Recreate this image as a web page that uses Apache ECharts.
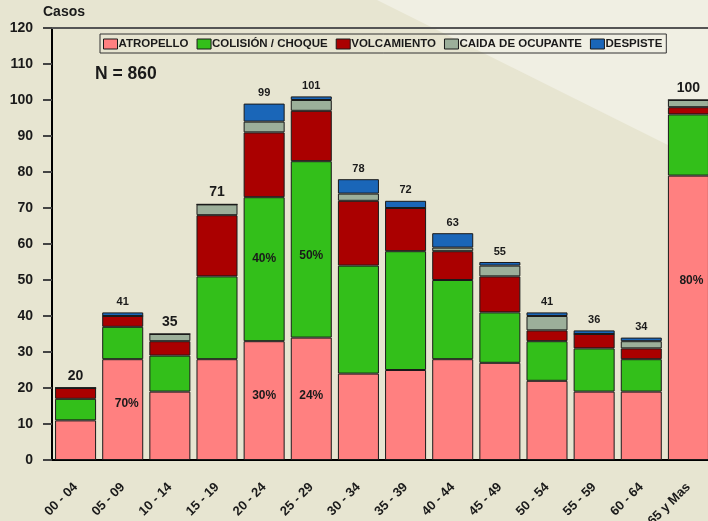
<!DOCTYPE html>
<html>
<head>
<meta charset="utf-8">
<script src="https://cdn.jsdelivr.net/npm/echarts@6/dist/echarts.min.js"></script>
<style>
html, body { margin: 0; padding: 0; background: #e7e5d1; overflow: hidden; }
#chart { width: 712px; height: 521px; }
</style>
</head>
<body>
<div id="chart"></div>
<script>
var categorias = ['00 - 04', '05 - 09', '10 - 14', '15 - 19', '20 - 24', '25 - 29', '30 - 34',
    '35 - 39', '40 - 44', '45 - 49', '50 - 54', '55 - 59', '60 - 64', '65 y Mas'];

var atropello   = [11, 28, 19, 28, 33, 34, 24, 25, 28, 27, 22, 19, 19, 79];
var colision    = [6, 9, 10, 23, 40, 49, 30, 33, 22, 14, 11, 12, 9, 17];
var volcamiento = [3, 3, 4, 17, 18, 14, 18, 12, 8, 10, 3, 4, 3, 2];
var caida       = [0, 0, 2, 3, 3, 3, 2, 0, 1, 3, 4, 0, 2, 2];
var despiste    = [0, 1, 0, 0, 5, 1, 4, 2, 4, 1, 1, 1, 1, 0];
var totales     = [20, 41, 35, 71, 99, 101, 78, 72, 63, 55, 41, 36, 34, 100];

var pctAtropello = ['', '70%', '', '', '30%', '24%', '', '', '', '', '', '', '', '80%'];
var pctColision  = ['', '', '', '', '40%', '50%', '', '', '', '', '', '', '', ''];

var yMin = 0, yMax = 120, yStep = 10;

// etiquetas de total en letra grande
var totalGrande = [0, 2, 3, 13];
// desplazamiento de las etiquetas de porcentaje
var pctOffset = { 1: [4, -6], 4: [0, -5], 5: [0, -3], 13: [3, -37] };
var pctOffset2 = { 4: [0, -11], 5: [0, 6] };

var txt = '#1a1a1a';
var fuente = '"Liberation Sans", Arial, sans-serif';

function conPct(valores, pcts, offs) {
    return valores.map(function (v, i) {
        if (!pcts[i]) return v;
        return {
            value: v,
            label: {
                show: true, position: 'inside', formatter: pcts[i],
                offset: offs[i] || [0, 0],
                fontSize: 12, fontWeight: 'bold', color: txt, fontFamily: fuente
            }
        };
    });
}

function serie(nombre, datos, color) {
    return {
        name: nombre, type: 'bar', stack: 'total', barCategoryGap: '13%',
        itemStyle: { color: color, borderColor: '#1a1a1a', borderWidth: 1 },
        data: datos
    };
}

var dom = document.getElementById('chart');
var myChart = echarts.init(dom);

var option = {
    backgroundColor: '#e7e5d1',
    animation: false,
    textStyle: { fontFamily: fuente },
    graphic: [{
        type: 'polygon', z: -10, silent: true,
        shape: { points: [[377, 0], [712, 0], [712, 167]] },
        style: { fill: '#f0efe3' }
    }, {
        type: 'text', left: 95, top: 65,
        style: { text: 'N = 860', font: 'bold 17.5px ' + fuente, fill: txt }
    }, {
        type: 'text', left: 43, top: 5,
        style: { text: 'Casos', font: 'bold 14px ' + fuente, fill: txt }
    }],
    legend: {
        data: ['ATROPELLO', 'COLISIÓN / CHOQUE', 'VOLCAMIENTO', 'CAIDA DE OCUPANTE', 'DESPISTE'],
        left: 100, top: 34,
        padding: [4, 4, 3, 3],
        borderColor: '#333', borderWidth: 1,
        itemWidth: 14, itemHeight: 10, itemGap: 8,
        icon: 'rect',
        itemStyle: { borderColor: '#1a1a1a', borderWidth: 1 },
        textStyle: { fontSize: 11.5, fontWeight: 'bold', color: txt, padding: [0, 0, 0, -4] }
    },
    grid: { left: 52, right: 0, top: 28, bottom: 61, outerBoundsMode: 'none', containLabel: false },
    xAxis: [{
        type: 'category', data: categorias,
        axisLine: { lineStyle: { color: '#000', width: 2 } },
        axisTick: { alignWithLabel: true, length: 9, lineStyle: { color: '#777', width: 2 } },
        axisLabel: { rotate: 45, margin: 25, fontSize: 13, fontWeight: 'bold', color: txt, interval: 0 }
    }, {
        type: 'category', position: 'top', data: categorias,
        axisLine: { lineStyle: { color: '#555', width: 2 } },
        axisTick: { show: false }, axisLabel: { show: false }
    }],
    yAxis: {
        type: 'value', min: yMin, max: yMax, interval: yStep,
        axisLine: { show: true, lineStyle: { color: '#000', width: 2 } },
        axisTick: { show: true, length: 9, lineStyle: { color: '#444', width: 2 } },
        splitLine: { show: false },
        axisLabel: { margin: 19, fontSize: 14, fontWeight: 'bold', color: txt }
    },
    series: [
        serie('ATROPELLO', conPct(atropello, pctAtropello, pctOffset), '#ff8080'),
        serie('COLISIÓN / CHOQUE', conPct(colision, pctColision, pctOffset2), '#33bf1a'),
        serie('VOLCAMIENTO', volcamiento, '#aa0000'),
        serie('CAIDA DE OCUPANTE', caida, '#9caf9a'),
        serie('DESPISTE', despiste, '#1a66b8'),
        {
            name: 'total', type: 'bar', stack: 'total',
            itemStyle: { color: 'rgba(0,0,0,0)', borderWidth: 0 },
            data: totales.map(function (t, i) {
                var grande = totalGrande.indexOf(i) >= 0;
                return {
                    value: 0,
                    label: {
                        show: true, position: 'top', distance: 5, formatter: String(t),
                        fontSize: grande ? 14 : 11, fontWeight: 'bold', color: txt
                    }
                };
            })
        }
    ]
};

myChart.setOption(option);
</script>
</body>
</html>
